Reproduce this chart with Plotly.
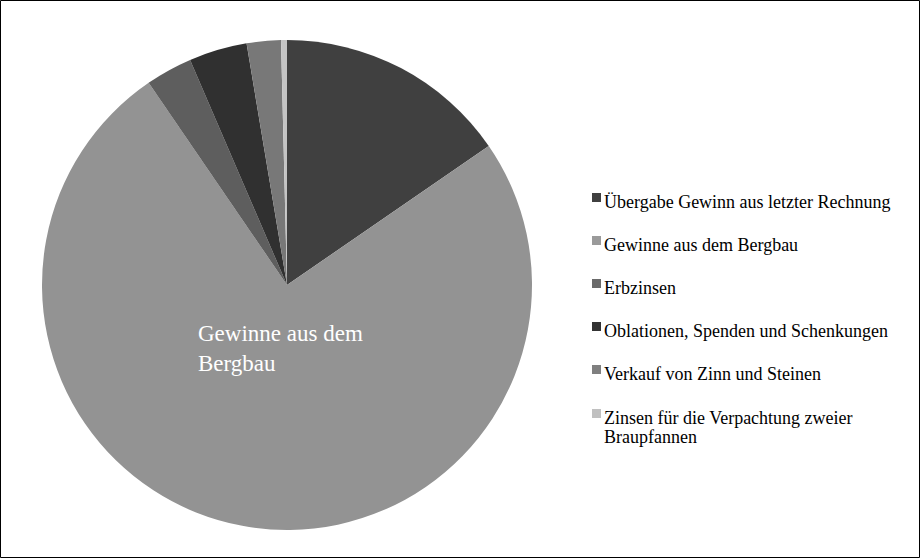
import plotly.graph_objects as go

labels = ["Übergabe Gewinn aus letzter Rechnung", "Gewinne aus dem Bergbau", "Erbzinsen",
          "Oblationen, Spenden und Schenkungen", "Verkauf von Zinn und Steinen",
          "Zinsen für die Verpachtung zweier Braupfannen"]
legend_lines = [["Übergabe Gewinn aus letzter Rechnung"], ["Gewinne aus dem Bergbau"], ["Erbzinsen"],
                ["Oblationen, Spenden und Schenkungen"], ["Verkauf von Zinn und Steinen"],
                ["Zinsen für die Verpachtung zweier", "Braupfannen"]]
values = [15.4, 75.05, 3.08, 3.83, 2.25, 0.39]
colors = ["#404040", "#939393", "#5e5e5e", "#303030", "#787878", "#c4c4c4"]
legend_colors = ["#404040", "#9a9a9a", "#6a6a6a", "#333333", "#7f7f7f", "#c0c0c0"]

W, H = 921, 559
fig = go.Figure(go.Pie(
    labels=labels, values=values, sort=False, direction="clockwise", rotation=0,
    marker=dict(colors=colors, line=dict(width=0)),
    textinfo="none", hoverinfo="skip", showlegend=False,
    domain=dict(x=[42 / W, 532 / W], y=[(H - 530) / H, (H - 40) / H]),
))

font = "Liberation Serif, Times New Roman, serif"
fig.add_annotation(text="Gewinne aus dem<br>Bergbau", x=196 / W, y=(H - 319) / H,
                   xref="paper", yref="paper", xanchor="left", yanchor="top", align="left",
                   showarrow=False, font=dict(family=font, size=23, color="white"))

baselines = [208, 251, 294, 337, 380, 424]
for lines, c, bl in zip(legend_lines, legend_colors, baselines):
    fig.add_shape(type="rect", xref="paper", yref="paper",
                  x0=592 / W, x1=601 / W, y0=(H - bl + 6) / H, y1=(H - bl + 15) / H,
                  line=dict(width=0), fillcolor=c)
    for k, t in enumerate(lines):
        b = bl + 19 * k
        fig.add_annotation(text=t, x=602 / W, y=(H - b + 6) / H, xref="paper", yref="paper",
                           xanchor="left", yanchor="middle", align="left", showarrow=False,
                           font=dict(family=font, size=18, color="black"))

fig.add_shape(type="rect", xref="paper", yref="paper", x0=0.5 / W, x1=1 - 1.5 / W,
              y0=1.5 / H, y1=1 - 0.5 / H, line=dict(color="black", width=1))

fig.update_layout(width=W, height=H, margin=dict(l=0, r=0, t=0, b=0),
                  paper_bgcolor="white", plot_bgcolor="white")
fig.write_html("out.html", config={"displayModeBar": False},
               post_script="document.body.style.margin='0';document.body.style.overflow='hidden';")
